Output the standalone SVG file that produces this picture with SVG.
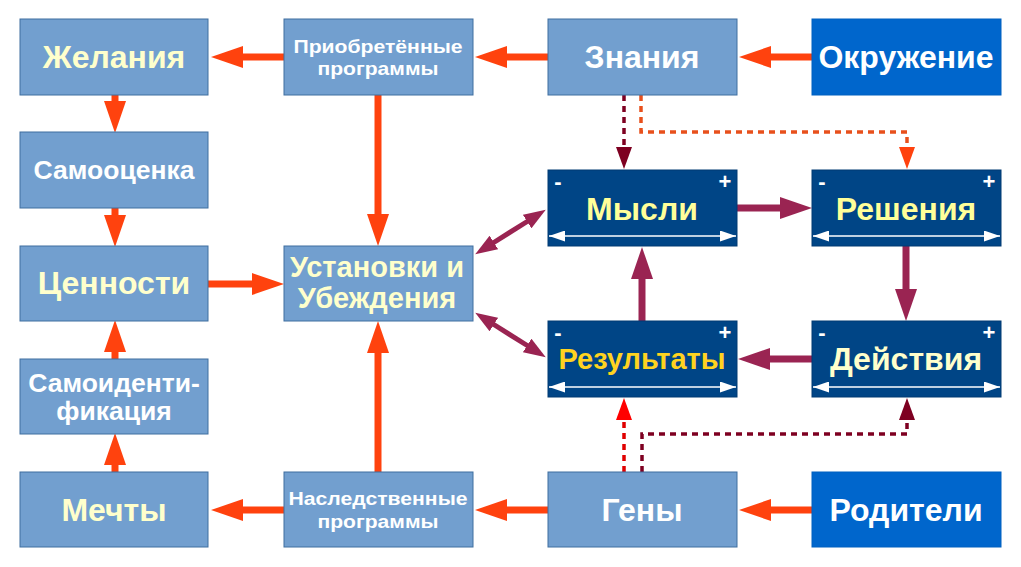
<svg xmlns="http://www.w3.org/2000/svg" width="1021" height="567" viewBox="0 0 1021 567">
<style>
  .lb{fill:#729fcf;stroke:#3f6e9f;stroke-width:1}
  .db{fill:#004586;stroke:#003a72;stroke-width:1}
  .bb{fill:#0066cc;stroke:#0060c0;stroke-width:1}
  text{font-family:"Liberation Sans",Arial,sans-serif;font-weight:bold;text-anchor:middle}
  .big{font-size:32px}
  .mid{font-size:26.5px}
  .ust{font-size:29px}
  .res{font-size:29px}
  .sm{font-size:18.5px}
  .w{fill:#ffffff}
  .ly{fill:#ffffcc}
  .y{fill:#ffff99}
  .g{fill:#ffd320}
  .pm{font-size:22px;fill:#ffffff;font-weight:bold}
  .or{stroke:#ff420e;stroke-width:7;fill:none}
  .mr{stroke:#9a2452;stroke-width:7;fill:none}
  .mr2{stroke:#9a2452;stroke-width:5;fill:none}
  .dd{stroke:#7e0021;stroke-width:3.5;stroke-dasharray:6,5;fill:none}
  .do{stroke:#e8501c;stroke-width:3.5;stroke-dasharray:6,5;fill:none}
  .dr{stroke:#e00000;stroke-width:3.5;stroke-dasharray:6,5;fill:none}
  .wl{stroke:#ffffff;stroke-width:1.5;fill:none}
</style>
<defs>
  <marker id="aO" markerUnits="userSpaceOnUse" markerWidth="32" markerHeight="22" viewBox="0 0 32 22" refX="1" refY="11" orient="auto"><path d="M0,0 L32,11 L0,22 z" fill="#ff420e"/></marker>
  <marker id="aM" markerUnits="userSpaceOnUse" markerWidth="32" markerHeight="22" viewBox="0 0 32 22" refX="1" refY="11" orient="auto"><path d="M0,0 L32,11 L0,22 z" fill="#9a2452"/></marker>
  <marker id="aM2" markerUnits="userSpaceOnUse" markerWidth="22" markerHeight="16" viewBox="0 0 22 16" refX="1" refY="8" orient="auto"><path d="M0,0 L22,8 L0,16 z" fill="#9a2452"/></marker>
  <marker id="aM2s" markerUnits="userSpaceOnUse" markerWidth="22" markerHeight="16" viewBox="0 0 22 16" refX="21" refY="8" orient="auto"><path d="M22,0 L0,8 L22,16 z" fill="#9a2452"/></marker>
  <marker id="aD" markerUnits="userSpaceOnUse" markerWidth="22" markerHeight="16" viewBox="0 0 22 16" refX="1" refY="8" orient="auto"><path d="M0,0 L22,8 L0,16 z" fill="#7e0021"/></marker>
  <marker id="aDO" markerUnits="userSpaceOnUse" markerWidth="22" markerHeight="16" viewBox="0 0 22 16" refX="1" refY="8" orient="auto"><path d="M0,0 L22,8 L0,16 z" fill="#ff420e"/></marker>
  <marker id="aDR" markerUnits="userSpaceOnUse" markerWidth="22" markerHeight="16" viewBox="0 0 22 16" refX="1" refY="8" orient="auto"><path d="M0,0 L22,8 L0,16 z" fill="#ff0000"/></marker>
  <marker id="wE" markerUnits="userSpaceOnUse" markerWidth="16" markerHeight="11" viewBox="0 0 16 11" refX="16" refY="5.5" orient="auto"><path d="M0,0 L16,5.5 L0,11 z" fill="#ffffff"/></marker>
  <marker id="wS" markerUnits="userSpaceOnUse" markerWidth="16" markerHeight="11" viewBox="0 0 16 11" refX="0" refY="5.5" orient="auto"><path d="M16,0 L0,5.5 L16,11 z" fill="#ffffff"/></marker>
</defs>

<g id="connectors">
  <line class="or" x1="284" y1="57" x2="242" y2="57" marker-end="url(#aO)"/>
  <line class="or" x1="548" y1="57" x2="506" y2="57" marker-end="url(#aO)"/>
  <line class="or" x1="812" y1="57" x2="770" y2="57" marker-end="url(#aO)"/>
  <line class="or" x1="115" y1="95" x2="115" y2="102" marker-end="url(#aO)"/>
  <line class="or" x1="115" y1="208" x2="115" y2="216" marker-end="url(#aO)"/>
  <line class="or" x1="115" y1="359" x2="115" y2="351" marker-end="url(#aO)"/>
  <line class="or" x1="115" y1="472" x2="115" y2="464" marker-end="url(#aO)"/>
  <line class="or" x1="208" y1="284" x2="253" y2="284" marker-end="url(#aO)"/>
  <line class="or" x1="378" y1="95" x2="378" y2="215" marker-end="url(#aO)"/>
  <line class="or" x1="378" y1="472" x2="378" y2="352" marker-end="url(#aO)"/>
  <line class="or" x1="284" y1="510" x2="242" y2="510" marker-end="url(#aO)"/>
  <line class="or" x1="548" y1="510" x2="506" y2="510" marker-end="url(#aO)"/>
  <line class="or" x1="812" y1="510" x2="770" y2="510" marker-end="url(#aO)"/>
  <line class="mr" x1="737" y1="208" x2="781" y2="208" marker-end="url(#aM)"/>
  <line class="mr" x1="906" y1="246" x2="906" y2="290" marker-end="url(#aM)"/>
  <line class="mr" x1="812" y1="359" x2="769" y2="359" marker-end="url(#aM)"/>
  <line class="mr" x1="642" y1="321" x2="642" y2="278" marker-end="url(#aM)"/>
  <line class="mr2" x1="493" y1="243" x2="528" y2="221" marker-start="url(#aM2s)" marker-end="url(#aM2)"/>
  <line class="mr2" x1="493" y1="324" x2="528" y2="346" marker-start="url(#aM2s)" marker-end="url(#aM2)"/>
  <polyline class="dd" points="624,95 624,148" marker-end="url(#aD)"/>
  <polyline class="do" points="641,95 641,132 907,132 907,148" marker-end="url(#aDO)"/>
  <polyline class="dr" points="624,472 624,419" marker-end="url(#aDR)"/>
  <polyline class="dd" points="642,472 642,434 907,434 907,419" marker-end="url(#aD)"/>
</g>

<g id="zhelaniya"><rect class="lb" x="20" y="19" width="188" height="76"/><text class="big ly" x="114" y="68">Желания</text></g>
<g id="samootsenka"><rect class="lb" x="20" y="132" width="188" height="76"/><text class="mid w" x="114" y="179">Самооценка</text></g>
<g id="tsennosti"><rect class="lb" x="20" y="246" width="188" height="75"/><text class="big ly" x="114" y="294">Ценности</text></g>
<g id="samoidentifikatsiya"><rect class="lb" x="20" y="359" width="188" height="75"/><text class="mid w" x="114" y="392">Самоиденти-</text><text class="mid w" x="114" y="420">фикация</text></g>
<g id="mechty"><rect class="lb" x="20" y="472" width="188" height="75"/><text class="big ly" x="114" y="521">Мечты</text></g>

<g id="priobretennye"><rect class="lb" x="284" y="19" width="189" height="76"/><text class="sm w" x="378" y="53" textLength="169" lengthAdjust="spacingAndGlyphs">Приобретённые</text><text class="sm w" x="378" y="75" textLength="121" lengthAdjust="spacingAndGlyphs">программы</text></g>
<g id="ustanovki"><rect class="lb" x="284" y="246" width="189" height="75"/><text class="ust ly" x="377" y="277">Установки и</text><text class="ust ly" x="377" y="308">Убеждения</text></g>
<g id="nasledstvennye"><rect class="lb" x="284" y="472" width="189" height="75"/><text class="sm w" x="378" y="505" textLength="179" lengthAdjust="spacingAndGlyphs">Наследственные</text><text class="sm w" x="378" y="528" textLength="121" lengthAdjust="spacingAndGlyphs">программы</text></g>

<g id="znaniya"><rect class="lb" x="548" y="19" width="189" height="76"/><text class="big w" x="642" y="68">Знания</text></g>
<g id="okruzhenie"><rect class="bb" x="812" y="19" width="189" height="76"/><text class="big w" x="906" y="68">Окружение</text></g>

<g id="mysli"><rect class="db" x="548" y="170" width="189" height="76"/><text class="pm" x="558" y="189">-</text><text class="pm" x="725" y="189">+</text><text class="big y" x="642" y="220">Мысли</text><line class="wl" x1="549" y1="236" x2="736" y2="236" marker-start="url(#wS)" marker-end="url(#wE)"/></g>
<g id="resheniya"><rect class="db" x="812" y="170" width="189" height="76"/><text class="pm" x="822" y="189">-</text><text class="pm" x="989" y="189">+</text><text class="big y" x="906" y="220">Решения</text><line class="wl" x1="813" y1="236" x2="1000" y2="236" marker-start="url(#wS)" marker-end="url(#wE)"/></g>
<g id="rezultaty"><rect class="db" x="548" y="321" width="189" height="76"/><text class="pm" x="558" y="340">-</text><text class="pm" x="725" y="340">+</text><text class="res g" x="642" y="369">Результаты</text><line class="wl" x1="549" y1="387" x2="736" y2="387" marker-start="url(#wS)" marker-end="url(#wE)"/></g>
<g id="deystviya"><rect class="db" x="812" y="321" width="189" height="76"/><text class="pm" x="822" y="340">-</text><text class="pm" x="989" y="340">+</text><text class="big ly" x="906" y="370">Действия</text><line class="wl" x1="813" y1="387" x2="1000" y2="387" marker-start="url(#wS)" marker-end="url(#wE)"/></g>

<g id="geny"><rect class="lb" x="548" y="472" width="189" height="75"/><text class="big w" x="642" y="521">Гены</text></g>
<g id="roditeli"><rect class="bb" x="812" y="472" width="189" height="75"/><text class="big w" x="906" y="521">Родители</text></g>
</svg>
